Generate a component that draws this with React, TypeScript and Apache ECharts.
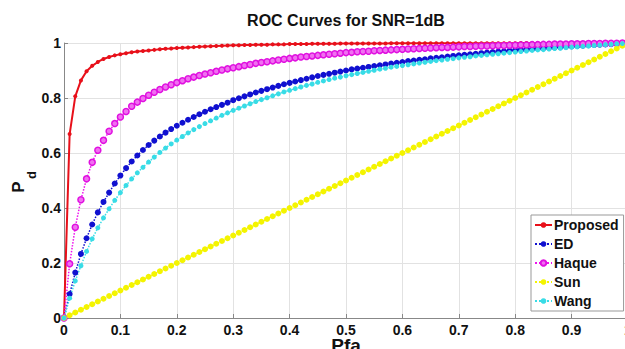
import React, { useEffect, useRef } from "react";
import * as echarts from "echarts";

const TITLE = "ROC Curves for SNR=1dB";
const X_NAME = "Pfa";
const SERIES_NAMES = ["Proposed", "ED", "Haque", "Sun", "Wang"];

const PFA = [
  0, 0.01, 0.02, 0.03, 0.04, 0.05, 0.06, 0.07, 0.08, 0.09, 0.1,
  0.11, 0.12, 0.13, 0.14, 0.15, 0.16, 0.17, 0.18, 0.19, 0.2,
  0.21, 0.22, 0.23, 0.24, 0.25, 0.26, 0.27, 0.28, 0.29, 0.3,
  0.31, 0.32, 0.33, 0.34, 0.35, 0.36, 0.37, 0.38, 0.39, 0.4,
  0.41, 0.42, 0.43, 0.44, 0.45, 0.46, 0.47, 0.48, 0.49, 0.5,
  0.51, 0.52, 0.53, 0.54, 0.55, 0.56, 0.57, 0.58, 0.59, 0.6,
  0.61, 0.62, 0.63, 0.64, 0.65, 0.66, 0.67, 0.68, 0.69, 0.7,
  0.71, 0.72, 0.73, 0.74, 0.75, 0.76, 0.77, 0.78, 0.79, 0.8,
  0.81, 0.82, 0.83, 0.84, 0.85, 0.86, 0.87, 0.88, 0.89, 0.9,
  0.91, 0.92, 0.93, 0.94, 0.95, 0.96, 0.97, 0.98, 0.99, 1.0,
];

const PROPOSED = [
  0, 0.669, 0.806, 0.864, 0.897, 0.917, 0.931, 0.942, 0.949, 0.955, 0.959,
  0.963, 0.966, 0.969, 0.971, 0.973, 0.975, 0.977, 0.979, 0.98, 0.982,
  0.983, 0.984, 0.985, 0.986, 0.987, 0.988, 0.989, 0.99, 0.991, 0.992,
  0.992, 0.993, 0.993, 0.994, 0.994, 0.994, 0.995, 0.995, 0.995, 0.996,
  0.996, 0.996, 0.996, 0.997, 0.997, 0.997, 0.997, 0.997, 0.998, 0.998,
  0.998, 0.998, 0.998, 0.998, 0.998, 0.998, 0.998, 0.999, 0.999, 0.999,
  0.999, 0.999, 0.999, 0.999, 0.999, 0.999, 0.999, 0.999, 0.999, 0.999,
  0.999, 0.999, 0.999, 0.999, 0.999, 0.999, 0.999, 0.999, 0.999, 0.999,
  1, 1, 1, 1, 1, 1, 1, 1, 1, 1,
  1, 1, 1, 1, 1, 1, 1, 1, 1, 1,
];

const ED = [
  0, 0.087, 0.165, 0.233, 0.29, 0.34, 0.384, 0.422, 0.456, 0.489, 0.518,
  0.545, 0.569, 0.591, 0.611, 0.629, 0.645, 0.66, 0.674, 0.687, 0.699,
  0.71, 0.721, 0.731, 0.741, 0.75, 0.759, 0.767, 0.775, 0.783, 0.792,
  0.799, 0.806, 0.813, 0.82, 0.826, 0.832, 0.838, 0.844, 0.85, 0.855,
  0.86, 0.865, 0.87, 0.875, 0.88, 0.884, 0.888, 0.892, 0.896, 0.9,
  0.904, 0.907, 0.91, 0.913, 0.916, 0.919, 0.922, 0.925, 0.928, 0.931,
  0.934, 0.936, 0.939, 0.941, 0.944, 0.946, 0.948, 0.951, 0.953, 0.955,
  0.957, 0.959, 0.961, 0.963, 0.965, 0.967, 0.969, 0.97, 0.972, 0.974,
  0.975, 0.977, 0.978, 0.98, 0.981, 0.983, 0.984, 0.985, 0.987, 0.988,
  0.989, 0.99, 0.992, 0.993, 0.994, 0.995, 0.996, 0.997, 0.999, 1.0,
];

const HAQUE = [
  0, 0.197, 0.33, 0.43, 0.506, 0.566, 0.61, 0.646, 0.679, 0.707, 0.731,
  0.751, 0.77, 0.785, 0.798, 0.81, 0.821, 0.831, 0.84, 0.848, 0.856,
  0.863, 0.87, 0.876, 0.882, 0.887, 0.892, 0.897, 0.902, 0.906, 0.91,
  0.914, 0.918, 0.922, 0.926, 0.929, 0.932, 0.935, 0.938, 0.941, 0.944,
  0.946, 0.949, 0.951, 0.953, 0.955, 0.957, 0.959, 0.961, 0.963, 0.965,
  0.966, 0.968, 0.969, 0.97, 0.972, 0.973, 0.974, 0.975, 0.976, 0.977,
  0.978, 0.979, 0.98, 0.981, 0.982, 0.983, 0.984, 0.984, 0.985, 0.986,
  0.987, 0.987, 0.988, 0.989, 0.989, 0.99, 0.991, 0.991, 0.992, 0.992,
  0.993, 0.993, 0.994, 0.994, 0.995, 0.995, 0.996, 0.996, 0.996, 0.997,
  0.997, 0.997, 0.998, 0.998, 0.998, 0.999, 0.999, 0.999, 1.0, 1.0,
];

const SUN = [
  0, 0.01, 0.02, 0.03, 0.04, 0.05, 0.06, 0.07, 0.08, 0.09, 0.1,
  0.11, 0.12, 0.13, 0.14, 0.15, 0.16, 0.17, 0.18, 0.19, 0.2,
  0.21, 0.22, 0.23, 0.24, 0.25, 0.26, 0.27, 0.28, 0.29, 0.3,
  0.31, 0.32, 0.33, 0.34, 0.35, 0.36, 0.37, 0.38, 0.39, 0.4,
  0.41, 0.42, 0.43, 0.44, 0.45, 0.46, 0.47, 0.48, 0.49, 0.5,
  0.51, 0.52, 0.53, 0.54, 0.55, 0.56, 0.57, 0.58, 0.59, 0.6,
  0.61, 0.62, 0.63, 0.64, 0.65, 0.66, 0.67, 0.68, 0.69, 0.7,
  0.71, 0.72, 0.73, 0.74, 0.75, 0.76, 0.77, 0.78, 0.79, 0.8,
  0.81, 0.82, 0.83, 0.84, 0.85, 0.86, 0.87, 0.88, 0.89, 0.9,
  0.91, 0.92, 0.93, 0.94, 0.95, 0.96, 0.97, 0.98, 0.99, 1.0,
];

const WANG = [
  0, 0.072, 0.135, 0.19, 0.242, 0.288, 0.328, 0.364, 0.397, 0.428, 0.456,
  0.482, 0.506, 0.528, 0.548, 0.567, 0.585, 0.602, 0.618, 0.633, 0.647,
  0.66, 0.673, 0.685, 0.696, 0.707, 0.717, 0.727, 0.737, 0.746, 0.755,
  0.763, 0.771, 0.779, 0.787, 0.794, 0.801, 0.808, 0.815, 0.822, 0.828,
  0.834, 0.84, 0.846, 0.851, 0.857, 0.862, 0.867, 0.872, 0.876, 0.881,
  0.885, 0.889, 0.893, 0.897, 0.901, 0.905, 0.908, 0.912, 0.915, 0.918,
  0.921, 0.924, 0.927, 0.93, 0.933, 0.936, 0.938, 0.941, 0.943, 0.946,
  0.948, 0.95, 0.953, 0.955, 0.957, 0.959, 0.961, 0.963, 0.965, 0.967,
  0.969, 0.971, 0.973, 0.975, 0.976, 0.978, 0.98, 0.981, 0.983, 0.985,
  0.986, 0.988, 0.989, 0.991, 0.992, 0.994, 0.995, 0.997, 0.998, 1.0,
];

const FONT = "'Liberation Sans', Arial, sans-serif";

function pairs(ys: number[]) {
  return PFA.map((x, i) => [x, ys[i]]);
}

export default function App() {
  const ref = useRef<HTMLDivElement>(null);
  useEffect(() => {
    if (!ref.current) return;
    const chart = echarts.init(ref.current, null, { renderer: "svg" });
    const axisLabel = { fontFamily: FONT, fontWeight: "bold", fontSize: 14, color: "#111" };
    const mk = (
      name: string,
      ys: number[],
      color: string,
      symbolSize: number,
      lineType: string,
      lineWidth: number,
      itemStyle: any
    ) => ({
      name,
      type: "line",
      data: pairs(ys),
      symbol: "circle",
      symbolSize,
      showSymbol: true,
      lineStyle: { color, width: lineWidth, type: lineType },
      itemStyle: { color, ...itemStyle },
      clip: false,
    });
    chart.setOption({
      animation: false,
      backgroundColor: "#ffffff",
      title: {
        text: TITLE,
        left: 346,
        top: 12,
        padding: 0,
        textAlign: "center",
        textStyle: { fontFamily: FONT, fontWeight: "bold", fontSize: 16, color: "#111" },
      },
      grid: { left: 64, right: -3, top: 43, bottom: 31, containLabel: false, outerBoundsMode: "none" },
      xAxis: {
        type: "value",
        min: 0,
        max: 1,
        interval: 0.1,
        name: X_NAME,
        nameLocation: "middle",
        nameGap: 18,
        nameMoveOverlap: false,
        nameTextStyle: { fontFamily: FONT, fontWeight: "bold", fontSize: 19, color: "#111", verticalAlign: "top" },
        axisLine: { show: true, lineStyle: { color: "#888", width: 1 } },
        axisTick: { show: true, inside: true, length: 4, lineStyle: { color: "#888" } },
        axisLabel: { ...axisLabel, margin: 5, formatter: (v: number) => String(Math.round(v * 10) / 10) },
        splitLine: { show: true, lineStyle: { color: "#e2e2e2", width: 1 } },
      },
      yAxis: {
        type: "value",
        min: 0,
        max: 1,
        interval: 0.2,
        axisLine: { show: true, lineStyle: { color: "#888", width: 1 } },
        axisTick: { show: true, inside: true, length: 4, lineStyle: { color: "#888" } },
        axisLabel: { ...axisLabel, margin: 3, formatter: (v: number) => String(Math.round(v * 10) / 10) },
        splitLine: { show: true, lineStyle: { color: "#e2e2e2", width: 1 } },
      },
      legend: {
        orient: "vertical",
        left: 531,
        top: 215,
        padding: [3, 5, 3, 3],
        itemGap: 5,
        itemWidth: 17,
        itemHeight: 7,
        backgroundColor: "#ffffff",
        borderColor: "#999",
        borderWidth: 1,
        borderRadius: 0,
        textStyle: { fontFamily: FONT, fontWeight: "bold", fontSize: 14, color: "#111", lineHeight: 14, padding: [0, 0, 0, -3] },
        data: SERIES_NAMES,
      },
      graphic: [
        {
          type: "group",
          x: 18,
          y: 187,
          rotation: Math.PI / 2,
          children: [
            {
              type: "text",
              x: 0,
              y: 0,
              style: { text: "P", font: `bold 17px ${FONT}`, fill: "#111", textAlign: "center", textVerticalAlign: "middle" },
            },
            {
              type: "text",
              x: 12,
              y: 13,
              style: { text: "d", font: `bold 13px ${FONT}`, fill: "#111", textAlign: "center", textVerticalAlign: "middle" },
            },
          ],
        },
      ],
      series: [
        mk(SERIES_NAMES[0], PROPOSED, "#e8101a", 4, "solid", 2, {}),
        mk(SERIES_NAMES[1], ED, "#1010d0", 6, "dotted", 1.5, {}),
        mk(SERIES_NAMES[2], HAQUE, "#ee10ee", 6, "dotted", 1.5, { color: "#f070f0", borderColor: "#e010e0", borderWidth: 1.5 }),
        mk(SERIES_NAMES[3], SUN, "#f4f400", 6, "dotted", 1.5, {}),
        mk(SERIES_NAMES[4], WANG, "#38dce6", 5, "dotted", 1.5, {}),
      ],
    });
    return () => chart.dispose();
  }, []);
  return (
    <div
      ref={ref}
      style={{ position: "fixed", left: 0, top: 0, width: 625, height: 349, background: "#fff" }}
    />
  );
}
